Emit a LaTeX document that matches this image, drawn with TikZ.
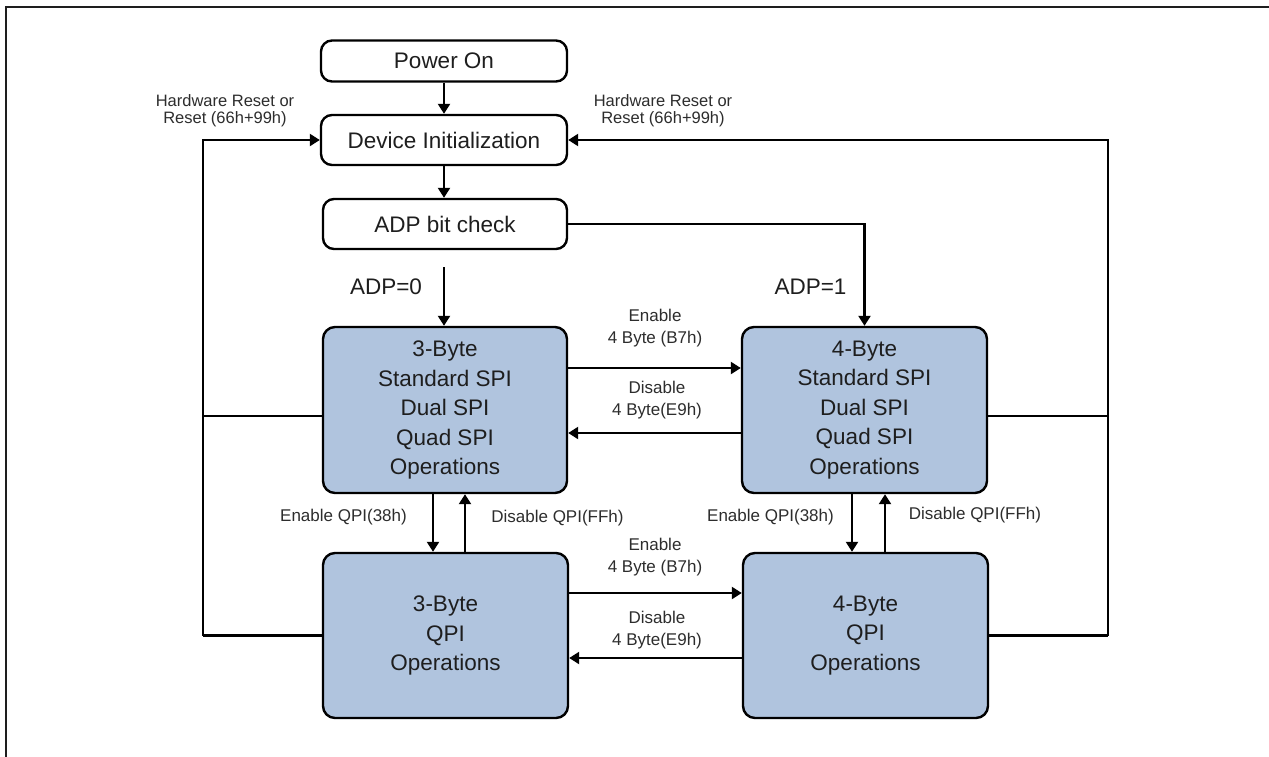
\documentclass[tikz,border=0pt]{standalone}
\usepackage{fontspec}
\setmainfont{Liberation Sans}
\usetikzlibrary{arrows.meta,calc}
\definecolor{stateblue}{RGB}{176,196,222}
\definecolor{txtdark}{RGB}{30,30,30}
\definecolor{lblgray}{RGB}{45,45,45}
\begin{document}
\begin{tikzpicture}[x=1pt,y=-1pt,
  box/.style={draw=black,line width=2.4pt,rounded corners=11pt,fill=white,inner sep=0pt,align=center,text=txtdark,font=\fontsize{22.5}{29.5}\selectfont},
  state/.style={box,fill=stateblue,rounded corners=12pt},
  lbl/.style={inner sep=0pt,align=center,text=lblgray,font=\fontsize{17}{22}\selectfont},
  hwlbl/.style={inner sep=0pt,align=center,text=lblgray,font=\fontsize{16.5}{17}\selectfont},
  big/.style={inner sep=0pt,text=txtdark,font=\fontsize{22.5}{27}\selectfont},
  conn/.style={line width=2.3pt,draw=black},
  arr/.style={conn,-{Triangle[length=10pt,width=12pt]}},
]
\useasboundingbox (0,0) rectangle (1269,756);
\fill[white] (0,0) rectangle (1269,756);
% outer frame (left and top edges)
\draw[line width=2.5pt,draw=txtdark] (6,760) -- (6,7) -- (1275,7);

% top boxes
\node[box,minimum width=246pt,minimum height=41pt] (power) at (444,61) {Power On};
\node[box,minimum width=246pt,minimum height=50pt] (init) at (444,140) {Device Initialization};
\node[box,minimum width=244pt,minimum height=50pt] (adp) at (445,224) {ADP bit check};

% state boxes
\node[state,minimum width=244pt,minimum height=166pt] (spi3) at (445,410)
  {3-Byte\\Standard SPI\\Dual SPI\\Quad SPI\\Operations};
\node[state,minimum width=245pt,minimum height=166pt] (spi4) at (864.5,410)
  {4-Byte\\Standard SPI\\Dual SPI\\Quad SPI\\Operations};
\node[state,minimum width=245pt,minimum height=165pt] (qpi3) at (445.5,635.5)
  {3-Byte\\QPI\\Operations};
\node[state,minimum width=245pt,minimum height=165pt] (qpi4) at (865.5,635.5)
  {4-Byte\\QPI\\Operations};

% top arrows
\draw[arr] (power) -- (init);
\draw[arr] (init.south) -- (init.south |- adp.north);

% ADP branches
\coordinate (a0) at (444,267);
\draw[arr] (a0) -- (a0 |- spi3.north);
\node[big] (adp0) at (386,287) {ADP=0};
\draw[arr] (adp.east) -| (spi4.north);
\node[big] (adp1) at (810.5,287) {ADP=1};

% SPI horizontal transitions
\draw[arr] ($(spi3.east)+(0,-42)$) coordinate (e1) -- (e1 -| spi4.west);
\draw[arr] ($(spi4.west)+(0,23)$) coordinate (d1) -- (d1 -| spi3.east);
\node[lbl] (en1) at (655,328.5) {Enable\\4 Byte (B7h)};
\node[lbl] (dis1) at (657,400.5) {Disable\\4 Byte(E9h)};

% QPI horizontal transitions
\draw[arr] ($(qpi3.east)+(0,-42.5)$) coordinate (e2) -- (e2 -| qpi4.west);
\draw[arr] ($(qpi4.west)+(0,22.5)$) coordinate (d2) -- (d2 -| qpi3.east);
\node[lbl] (en2) at (655,557.5) {Enable\\4 Byte (B7h)};
\node[lbl] (dis2) at (657,630) {Disable\\4 Byte(E9h)};

% vertical transitions
\draw[arr] ($(spi3.south)+(-12,0)$) coordinate (v1) -- (v1 |- qpi3.north);
\draw[arr] ($(qpi3.north)+(19.5,0)$) coordinate (v2) -- (v2 |- spi3.south);
\draw[arr] ($(spi4.south)+(-12.5,0)$) coordinate (v3) -- (v3 |- qpi4.north);
\draw[arr] ($(qpi4.north)+(19.5,0)$) coordinate (v4) -- (v4 |- spi4.south);
\node[lbl] (eq1) at (343.5,517) {Enable QPI(38h)};
\node[lbl] (dq1) at (557.5,518) {Disable QPI(FFh)};
\node[lbl] (eq2) at (770.5,517) {Enable QPI(38h)};
\node[lbl] (dq2) at (975,515) {Disable QPI(FFh)};

% reset loops
\coordinate (lt) at (203,140);
\coordinate (lb) at (203,635.5);
\coordinate (rt) at (1108,140);
\coordinate (rb) at (1108,635.5);
\draw[arr] (lb) -- (lt) -- (lt -| init.west);
\draw[conn] ($(spi3.west)+(0,6)$) coordinate (ls) -- (ls -| lt);
\draw[conn] (qpi3.west) -- (lb);
\draw[arr] (rb) -- (rt) -- (rt -| init.east);
\draw[conn] ($(spi4.east)+(0,6)$) coordinate (rs) -- (rs -| rt);
\draw[conn] (qpi4.east) -- (rb);
\node[hwlbl] (hw1) at (225,111) {Hardware Reset or\\Reset (66h+99h)};
\node[hwlbl] (hw2) at (663,111) {Hardware Reset or\\Reset (66h+99h)};
\end{tikzpicture}
\end{document}
